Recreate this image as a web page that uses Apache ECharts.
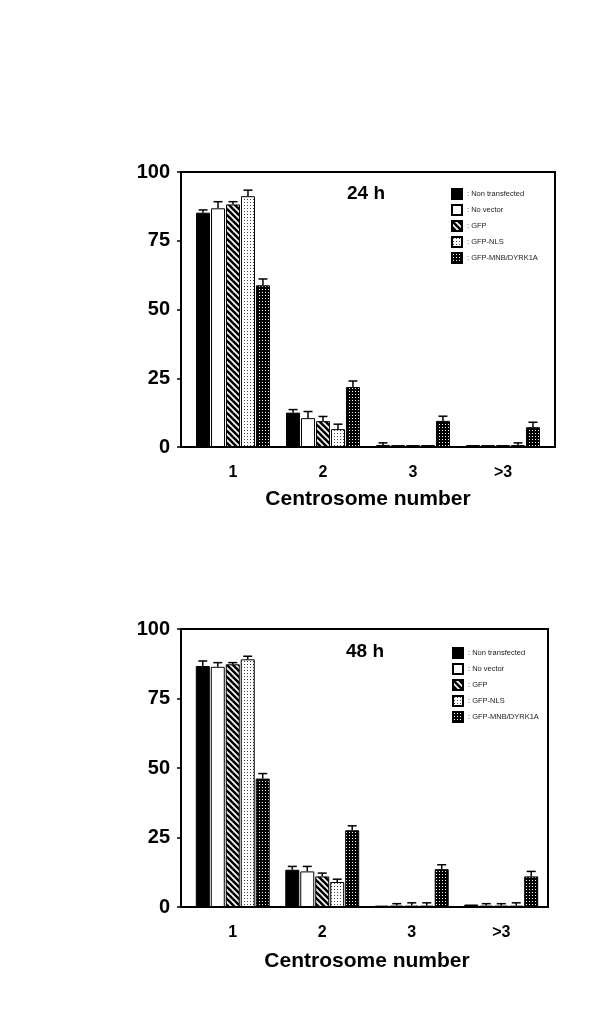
<!DOCTYPE html>
<html>
<head>
<meta charset="utf-8">
<script src="https://cdn.jsdelivr.net/npm/echarts@6/dist/echarts.min.js"></script>
<style>
  html, body { margin: 0; padding: 0; background: #fff; }
  #chart { width: 600px; height: 1015px; }
</style>
</head>
<body>
<div id="chart"></div>
<script>
// categories and series
var categories = ['1', '2', '3', '>3'];
var seriesNames = ['Non transfected', 'No vector', 'GFP', 'GFP-NLS', 'GFP-MNB/DYRK1A'];

// 24 h : mean % per series (rows) and category (columns)
var mean24 = [
  [85.2, 12.5, 0.7, 0.7],
  [86.8, 10.5, 0.7, 0.7],
  [88.2, 9.4, 0.7, 0.7],
  [91.2, 6.5, 0.7, 0.7],
  [58.8, 21.8, 9.5, 7.2]
];
var err24 = [
  [1.0, 1.1, 0.8, 0],
  [2.4, 2.4, 0, 0],
  [1.0, 1.7, 0, 0],
  [2.2, 1.8, 0, 0.8],
  [2.3, 2.2, 1.7, 1.8]
];

// 48 h
var mean48 = [
  [86.7, 13.4, 0.5, 0.9],
  [86.4, 12.8, 0.5, 0.5],
  [87.3, 11.0, 0.5, 0.5],
  [89.1, 9.0, 0.5, 0.5],
  [46.2, 27.6, 13.6, 11.0]
];
var err48 = [
  [1.8, 1.2, 0, 0],
  [1.5, 1.8, 0.7, 0.7],
  [0.6, 1.2, 1.0, 0.7],
  [1.1, 1.0, 1.0, 1.0],
  [1.8, 1.6, 1.6, 1.8]
];

var yTicks = [0, 25, 50, 75, 100];

var FONT = 'Liberation Sans, Arial, Helvetica, sans-serif';
var BAR_W = 14;
var BAR_GAP = 0.07;

function tile(size, draw) {
  var c = document.createElement('canvas');
  c.width = size; c.height = size;
  var ctx = c.getContext('2d');
  draw(ctx, size);
  return { image: c, repeat: 'repeat' };
}

var fills = [
  '#000',
  '#fff',
  tile(6, function (ctx, s) {
    ctx.fillStyle = '#fff'; ctx.fillRect(0, 0, s, s);
    ctx.strokeStyle = '#000'; ctx.lineWidth = 2.6;
    [-s, 0, s].forEach(function (k) {
      ctx.beginPath(); ctx.moveTo(k - 1, -1); ctx.lineTo(k + s + 1, s + 1); ctx.stroke();
    });
  }),
  tile(3, function (ctx, s) {
    ctx.fillStyle = '#fff'; ctx.fillRect(0, 0, s, s);
    ctx.fillStyle = '#444'; ctx.fillRect(1, 1, 1, 1);
  }),
  tile(3, function (ctx, s) {
    ctx.fillStyle = '#000'; ctx.fillRect(0, 0, s, s);
    ctx.fillStyle = '#fff'; ctx.fillRect(1, 1, 1, 1);
  })
];

function barSeries(means, gridIdx) {
  return means.map(function (vals, i) {
    return {
      name: seriesNames[i],
      type: 'bar',
      xAxisIndex: gridIdx, yAxisIndex: gridIdx,
      barWidth: BAR_W,
      barGap: (BAR_GAP * 100) + '%',
      data: vals,
      itemStyle: { color: fills[i], borderColor: '#000', borderWidth: 1 },
      silent: true,
      z: 2
    };
  });
}

function errSeries(means, errs, gridIdx) {
  return means.map(function (vals, i) {
    var offset = (i - 2) * BAR_W * (1 + BAR_GAP);
    return {
      type: 'custom',
      xAxisIndex: gridIdx, yAxisIndex: gridIdx,
      z: 3,
      silent: true,
      data: vals.map(function (v, c) { return [c, v, errs[i][c]]; }),
      renderItem: function (params, api) {
        var e = api.value(2);
        if (!e) return null;
        var base = api.coord([api.value(0), api.value(1)]);
        var top = api.coord([api.value(0), api.value(1) + e]);
        var x = base[0] + offset;
        var st = { stroke: '#000', lineWidth: 1.5 };
        return {
          type: 'group',
          children: [
            { type: 'line', shape: { x1: x, y1: base[1], x2: x, y2: top[1] }, style: st },
            { type: 'line', shape: { x1: x - 4.5, y1: top[1], x2: x + 4.5, y2: top[1] }, style: st }
          ]
        };
      }
    };
  });
}

var grids = [
  { left: 188, top: 172, width: 360, height: 275 },
  { left: 188, top: 629, width: 358, height: 278 }
];
var frames = [
  { x: 181, y: 172, w: 374, h: 275 },
  { x: 181, y: 629, w: 367, h: 278 }
];

function xAxis(gridIdx) {
  return {
    type: 'category', gridIndex: gridIdx, data: categories,
    axisLine: { show: false }, axisTick: { show: false },
    axisLabel: { color: '#000', fontFamily: FONT, fontWeight: 'bold', fontSize: 16, margin: 18 },
    name: 'Centrosome number', nameLocation: 'middle', nameGap: gridIdx ? 44 : 42,
    nameTextStyle: { color: '#000', fontFamily: FONT, fontWeight: 'bold', fontSize: 21 }
  };
}
function yAxis(gridIdx) {
  return {
    type: 'value', gridIndex: gridIdx, min: yTicks[0], max: yTicks[yTicks.length - 1], interval: 25,
    offset: 7,
    axisLine: { show: false },
    axisTick: { show: true, length: 4, lineStyle: { color: '#000', width: 1.5 } },
    splitLine: { show: false },
    axisLabel: { color: '#000', fontFamily: FONT, fontWeight: 'bold', fontSize: 20, margin: 11 }
  };
}
function legend(left, top) {
  return {
    data: seriesNames, orient: 'vertical', left: left, top: top,
    icon: 'rect',
    itemWidth: 10, itemHeight: 10, itemGap: 4, selectedMode: false,
    formatter: ': {name}',
    textStyle: { fontFamily: FONT, fontSize: 7.5, color: '#222' }
  };
}

var graphics = frames.map(function (f) {
  return { type: 'rect', shape: { x: f.x, y: f.y, width: f.w, height: f.h },
    style: { fill: 'none', stroke: '#000', lineWidth: 2 }, z: 10 };
});
graphics.push(
  { type: 'text', x: 366, y: 194, style: { text: '24 h', font: 'bold 19px ' + FONT, fill: '#000', align: 'center', verticalAlign: 'middle' } },
  { type: 'text', x: 365, y: 652, style: { text: '48 h', font: 'bold 19px ' + FONT, fill: '#000', align: 'center', verticalAlign: 'middle' } }
);

var option = {
  backgroundColor: '#fff',
  animation: false,
  grid: grids,
  xAxis: [xAxis(0), xAxis(1)],
  yAxis: [yAxis(0), yAxis(1)],
  legend: [legend(446, 183), legend(447, 642)],
  graphic: graphics,
  series: [].concat(
    barSeries(mean24, 0), errSeries(mean24, err24, 0),
    barSeries(mean48, 1), errSeries(mean48, err48, 1)
  )
};

var myChart = echarts.init(document.getElementById('chart'), null, { renderer: 'canvas' });
myChart.setOption(option);
</script>
</body>
</html>
